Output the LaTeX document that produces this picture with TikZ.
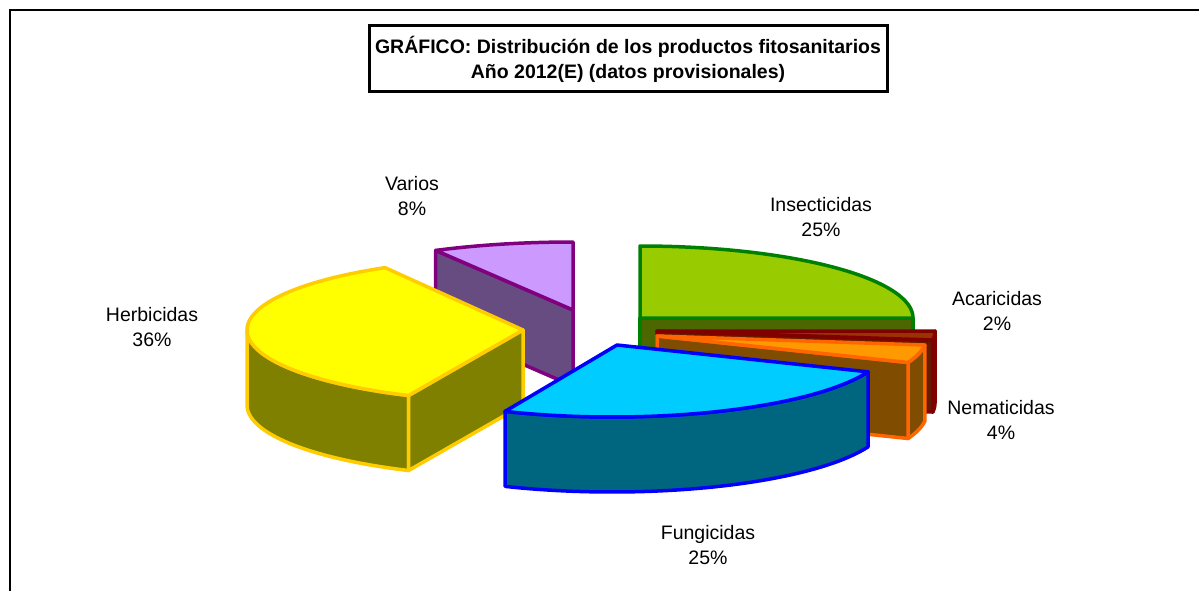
\documentclass[tikz,border=0pt]{standalone}
\usepackage{fontspec}
\setmainfont{Liberation Sans}
\definecolor{vartop}{HTML}{CC99FF}
\definecolor{varside}{HTML}{664C80}
\definecolor{varline}{HTML}{800080}
\definecolor{hertop}{HTML}{FFFF00}
\definecolor{herside}{HTML}{808000}
\definecolor{herline}{HTML}{FFCC00}
\definecolor{instop}{HTML}{99CC00}
\definecolor{insside}{HTML}{4C6600}
\definecolor{insline}{HTML}{008000}
\definecolor{acatop}{HTML}{993300}
\definecolor{acaside}{HTML}{661A00}
\definecolor{acaline}{HTML}{800000}
\definecolor{nemtop}{HTML}{FF9900}
\definecolor{nemside}{HTML}{804C00}
\definecolor{nemline}{HTML}{FF6600}
\definecolor{funtop}{HTML}{00CCFF}
\definecolor{funside}{HTML}{006680}
\definecolor{funline}{HTML}{0000FF}
\tikzset{
  face/.style={line width=3.5pt, line join=round},
  lbl/.style={align=center, font=\fontsize{19.5}{24.5}\selectfont, inner sep=0pt},
}
\begin{document}
\begin{tikzpicture}[x=1pt,y=-1pt]
\useasboundingbox (0,0) rectangle (1199,591);
\fill[white] (0,0) rectangle (1199,591);
% frame
\draw[line width=2.2pt] (10,591) -- (10,10) -- (1199,10);
% title
\node[draw, line width=3pt, minimum width=518pt, minimum height=66pt, inner sep=0pt,
      align=center, font=\fontsize{19.5}{25}\selectfont\bfseries] (title) at (628,59)
  {GRÁFICO: Distribución de los productos fitosanitarios\\Año 2012(E) (datos provisionales)};

% ---------- Varios (back) ----------
\filldraw[face, fill=varside, draw=varline]
  (573,310) -- ({573+285*cos(118.8)},{310-68*sin(118.8)}) -- ++(0,76) -- (573,386) -- cycle;
\filldraw[face, fill=vartop, draw=varline]
  (573,310) -- plot[domain=90:118.8,samples=30] ({573+285*cos(\x)},{310-68*sin(\x)}) -- cycle;

% ---------- Insecticidas ----------
\filldraw[face, fill=insside, draw=insline]
  (640,318) -- (913,318) -- (913,388) -- (640,388) -- cycle;
\filldraw[face, fill=instop, draw=insline]
  (640,318) -- plot[domain=90:0,samples=60] ({640+273*cos(\x)},{318-72*sin(\x)}) -- cycle;

% ---------- Acaricidas ----------
\filldraw[face, fill=acaside, draw=acaline]
  plot[domain=0:-7.2,samples=10] ({657+278*cos(\x)},{331-72*sin(\x)})
  -- plot[domain=-7.2:0,samples=10] ({657+278*cos(\x)},{403-72*sin(\x)}) -- cycle;
\filldraw[face, fill=acaside, draw=acaline]
  (657,331) -- ({657+278*cos(-7.2)},{331-72*sin(-7.2)}) -- ++(0,72) -- (657,403) -- cycle;
\filldraw[face, fill=acatop, draw=acaline]
  (657,331) -- plot[domain=0:-7.2,samples=10] ({657+278*cos(\x)},{331-72*sin(\x)}) -- cycle;

% ---------- Nematicidas ----------
\filldraw[face, fill=nemside, draw=nemline]
  plot[domain=-7.2:-21.6,samples=15] ({657+270*cos(\x)},{336-72*sin(\x)})
  -- plot[domain=-21.6:-7.2,samples=15] ({657+270*cos(\x)},{412-72*sin(\x)}) -- cycle;
\filldraw[face, fill=nemside, draw=nemline]
  (657,336) -- ({657+270*cos(-21.6)},{336-72*sin(-21.6)}) -- ++(0,76) -- (657,412) -- cycle;
\filldraw[face, fill=nemtop, draw=nemline]
  (657,336) -- plot[domain=-7.2:-21.6,samples=15] ({657+270*cos(\x)},{336-72*sin(\x)}) -- cycle;

% ---------- Herbicidas ----------
\filldraw[face, fill=herside, draw=herline]
  plot[domain=180:245.5,samples=40] ({523+276*cos(\x)},{330-72*sin(\x)})
  -- plot[domain=245.5:180,samples=40] ({523+276*cos(\x)},{405-72*sin(\x)}) -- cycle;
\filldraw[face, fill=herside, draw=herline]
  (523,330) -- ({523+276*cos(245.5)},{330-72*sin(245.5)}) -- ++(0,75) -- (523,405) -- cycle;
\filldraw[face, fill=hertop, draw=herline]
  (523,330) -- plot[domain=120:245.5,samples=60] ({523+276*cos(\x)},{330-72*sin(\x)}) -- cycle;

% ---------- Fungicidas (front) ----------
\filldraw[face, fill=funside, draw=funline]
  plot[domain=-21.9:-112.8,samples=50] ({612+276*cos(\x)},{345-72*sin(\x)})
  -- plot[domain=-112.8:-21.9,samples=50] ({612+276*cos(\x)},{420-72*sin(\x)}) -- cycle;
\filldraw[face, fill=funtop, draw=funline]
  (617,345) -- plot[domain=-21.9:-112.8,samples=50] ({612+276*cos(\x)},{345-72*sin(\x)}) -- cycle;

% ---------- labels ----------
\node[lbl] (varios) at (412,196) {Varios\\8\%};
\node[lbl] (insect) at (821,217) {Insecticidas\\25\%};
\node[lbl] (acari) at (997,311) {Acaricidas\\2\%};
\node[lbl] (nemat) at (1001,420) {Nematicidas\\4\%};
\node[lbl] (herbi) at (152,327) {Herbicidas\\36\%};
\node[lbl] (fungi) at (708,545) {Fungicidas\\25\%};
\end{tikzpicture}
\end{document}
